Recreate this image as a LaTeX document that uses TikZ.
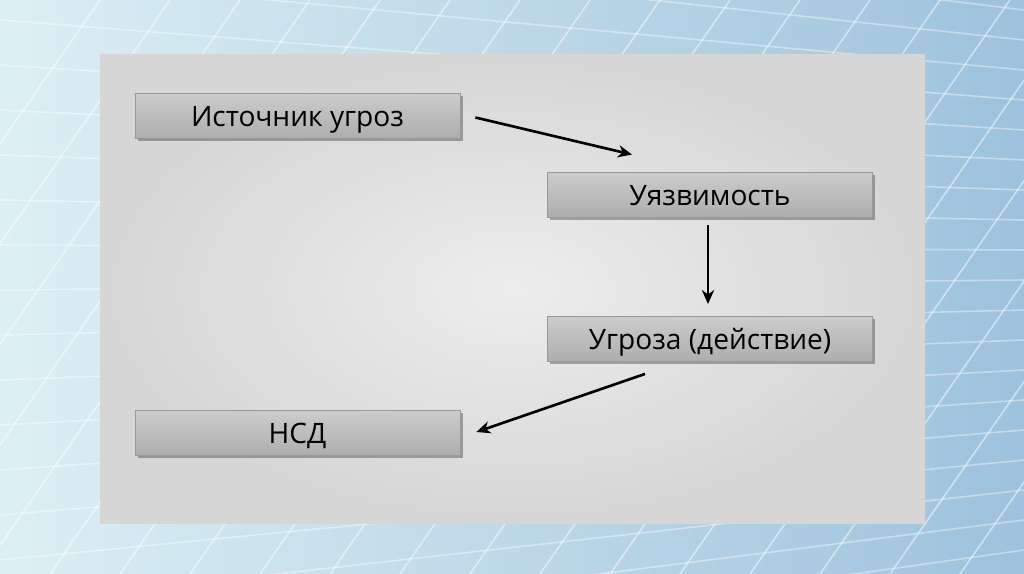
\documentclass[tikz,border=0pt]{standalone}
\usepackage{fontspec}
\setmainfont{Open Sans}
\usetikzlibrary{calc,arrows.meta,positioning,shadows}

\definecolor{bglight}{HTML}{DCEFF4}
\definecolor{bgdark}{HTML}{9EC2DD}
\definecolor{panelhi}{HTML}{EDEDED}
\definecolor{panello}{HTML}{D6D6D6}

\begin{document}
\begin{tikzpicture}[x=0.02cm, y=-0.02cm,
        gbox/.style={rectangle, draw=black!40, line width=0.5pt,
                     top color=black!20, bottom color=black!32,
                     minimum width=6.5cm, minimum height=0.9cm,
                     text height=13.5pt, text depth=1.5pt,
                     inner sep=0pt, font=\fontsize{16}{19}\selectfont,
                     drop shadow={shadow xshift=1.5pt, shadow yshift=-1.5pt,
                                  fill=black, opacity=0.3}},
        arr/.style={-{Stealth[length=8pt, width=7pt]}, line width=1.5pt, black}]
        % background and panel
        \useasboundingbox (0,0) rectangle (1024,574);
        \shade[left color=bglight, right color=bgdark] (0,0) rectangle (1024,574);
        \begin{scope}
            \clip (0,0) rectangle (1024,574);
            \foreach \i in {0,...,22} {
                \draw[white, opacity=0.5, line width=0.9pt]
                    (\i*70-300,574) -- (\i*70+100,0);
                \draw[white, opacity=0.4, line width=0.9pt]
                    (0,\i*45-250) -- (1024,\i*30-80);
            }
        \end{scope}
        \shade[inner color=panelhi, outer color=panello] (100,55) rectangle (925,523);

        % boxes
        \node[gbox] (src) at (297.5,115.5) {Источник угроз};
        \node[gbox] (vul) at (710,194.5) {Уязвимость};
        \node[gbox] (thr) at (710,339) {Угроза (действие)};
        \node[gbox] (nsd) at (297.5,433) {НСД};

        % arrows
        \draw[arr] ($(src.east)+(15,2)$) -- ($(vul.north)+(-78,-17)$);
        \draw[arr] ($(vul.south)+(-2,8)$) -- ($(thr.north)+(-2,-12)$);
        \draw[arr] ($(thr.south)+(-65,12)$) -- ($(nsd.east)+(16,-1)$);
\end{tikzpicture}
\end{document}
